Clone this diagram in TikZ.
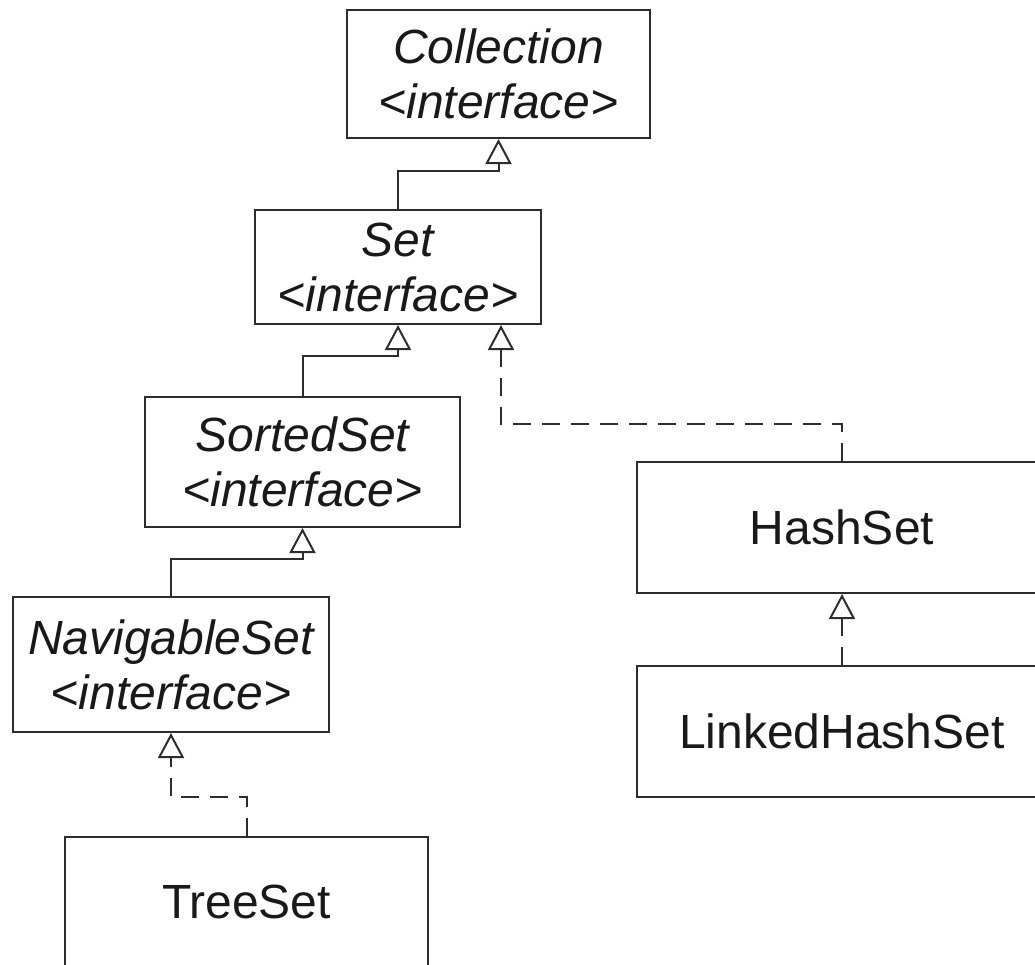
\documentclass[tikz,border=0pt]{standalone}
\usepackage{fontspec}
\setmainfont{Liberation Sans}
\usepackage{tikz}
\usetikzlibrary{arrows.meta,positioning,calc}
\usepackage{xcolor}
\definecolor{umlline}{RGB}{45,45,45}
\definecolor{umltext}{RGB}{25,25,25}
\tikzstyle{iface} = [draw=umlline, line width=1pt, align=center, text=umltext, font=\fontsize{24}{27.5}\selectfont\itshape]
\tikzstyle{cls} = [draw=umlline, line width=1pt, align=center, text=umltext, font=\fontsize{24}{27.5}\selectfont]
\tikzstyle{extends} = [line width=1pt, color=umlline, -{Triangle[open, length=12.5pt, width=13pt]}]
\tikzstyle{implements} = [extends, dash pattern=on 9pt off 5.5pt]

\begin{document}
\begin{tikzpicture}[x=0.5pt, y=-0.5pt]
\useasboundingbox (0,0) rectangle (1035,965);
\clip (0,0) rectangle (1035,965);
% Interfaces
\node[iface, minimum width=151.5pt, minimum height=64pt] (coll) at (498.5,74) {Collection\\<interface>};
\node[iface, minimum width=143pt, minimum height=57pt] (set) at (398,267) {Set\\<interface>};
\node[iface, minimum width=157.5pt, minimum height=65pt] (sorted) at (302.5,462) {SortedSet\\<interface>};
\node[iface, minimum width=158pt, minimum height=67.5pt] (nav) at (171,664.5) {NavigableSet\\<interface>};

% Classes
\node[cls, minimum width=181.5pt, minimum height=65pt] (tree) at (246.5,902) {TreeSet};
\node[cls, minimum width=205pt, minimum height=65.5pt] (hash) at (842,527.5) {HashSet};
\node[cls, minimum width=205pt, minimum height=65.5pt] (link) at (842,731.5) {LinkedHashSet};

\coordinate (setr) at ($(set.south east)+(-41,0)$);

% Inheritance
\draw[extends] (set.north) -- ++(0,-38) -| (coll.south);
\draw[extends] (sorted.north) -- ++(0,-40) -| (set.south);
\draw[extends] (nav.north) -- ++(0,-37) -| (sorted.south);
\draw[implements] (hash.north) -- ++(0,-37) -| (setr);
\draw[implements] (tree.north) -- ++(0,-39) -| (nav.south);
\draw[implements] (link.north) -- (hash.south);
\end{tikzpicture}
\end{document}
